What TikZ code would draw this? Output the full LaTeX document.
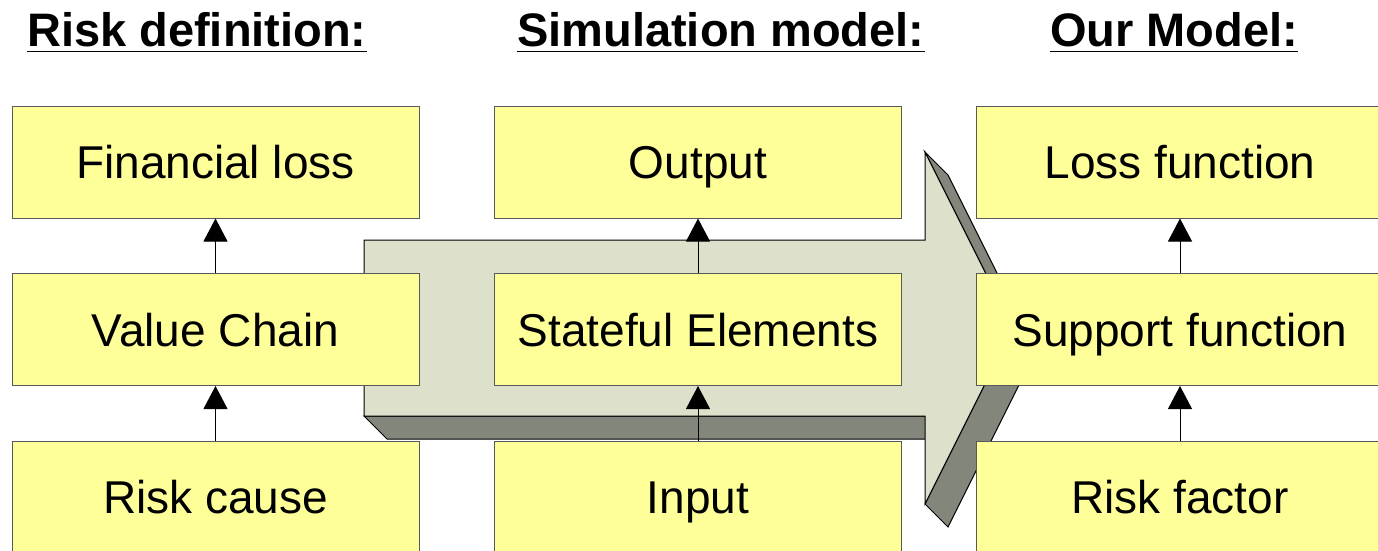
\documentclass[tikz,border=0pt]{standalone}
\usepackage{fontspec}
\setmainfont{Liberation Sans}
\usetikzlibrary{arrows.meta}
\definecolor{boxfill}{HTML}{FFFF99}
\definecolor{arrowface}{HTML}{DDE0CB}
\definecolor{arrowside}{HTML}{83867B}
\begin{document}
\begin{tikzpicture}[x=1pt,y=-1pt,
  box/.style={draw=black!65, line width=1pt, fill=boxfill,
    minimum width=407pt, minimum height=112pt, inner sep=0pt,
    font=\fontsize{46}{46}\selectfont, text height=33pt, text depth=0pt},
  title/.style={anchor=base west, inner sep=0pt,
    font=\fontsize{47}{47}\selectfont\bfseries},
  link/.style={line width=1pt, -{Triangle[width=24pt,length=23pt]}},
  face/.style={draw=black, line width=1pt, line join=miter}]

\clip (0,0) rectangle (1378,550);
\fill[white] (0,0) rectangle (1378,550);

% column headings
\node[title] (h1) at (27,46) {Risk definition:};
\node[title] (h2) at (517,46) {Simulation model:};
\node[title] (h3) at (1050,46) {Our Model:};
\foreach \h in {h1,h2,h3}
  \draw[line width=1.8pt] ([yshift=-5.5pt]\h.base west) -- ([yshift=-5.5pt]\h.base east);

% big 3D block arrow behind the boxes: extruded side faces, then front face
\filldraw[face, fill=arrowside] (364,416) -- (925,416) -- (948,439) -- (387,439) -- cycle;
\filldraw[face, fill=arrowside] (1013,328) -- (925,504) -- (948,527) -- (1036,351) -- cycle;
\filldraw[face, fill=arrowside] (925,152) -- (1013,328) -- (1036,351) -- (948,175) -- cycle;
\filldraw[face, fill=arrowface] (364,240) -- (925,240) -- (925,152) -- (1013,328)
  -- (925,504) -- (925,416) -- (364,416) -- cycle;

% left column
\node[box] (fl) at (215.5,162) {Financial loss};
\node[box] (vc) at (215.5,329.5) {Value Chain};
\node[box] (rc) at (215.5,497) {Risk cause};

% middle column
\node[box] (out) at (698,162) {Output};
\node[box] (se)  at (698,329.5) {Stateful Elements};
\node[box] (in)  at (698,497) {Input};

% right column
\node[box] (lf) at (1180,162) {Loss function};
\node[box] (sf) at (1180,329.5) {Support function};
\node[box] (rf) at (1180,497) {Risk factor};

% connectors
\draw[link] (rc.north) -- (vc.south);
\draw[link] (vc.north) -- (fl.south);
\draw[link] (in.north) -- (se.south);
\draw[link] (se.north) -- (out.south);
\draw[link] (rf.north) -- (sf.south);
\draw[link] (sf.north) -- (lf.south);
\end{tikzpicture}
\end{document}
